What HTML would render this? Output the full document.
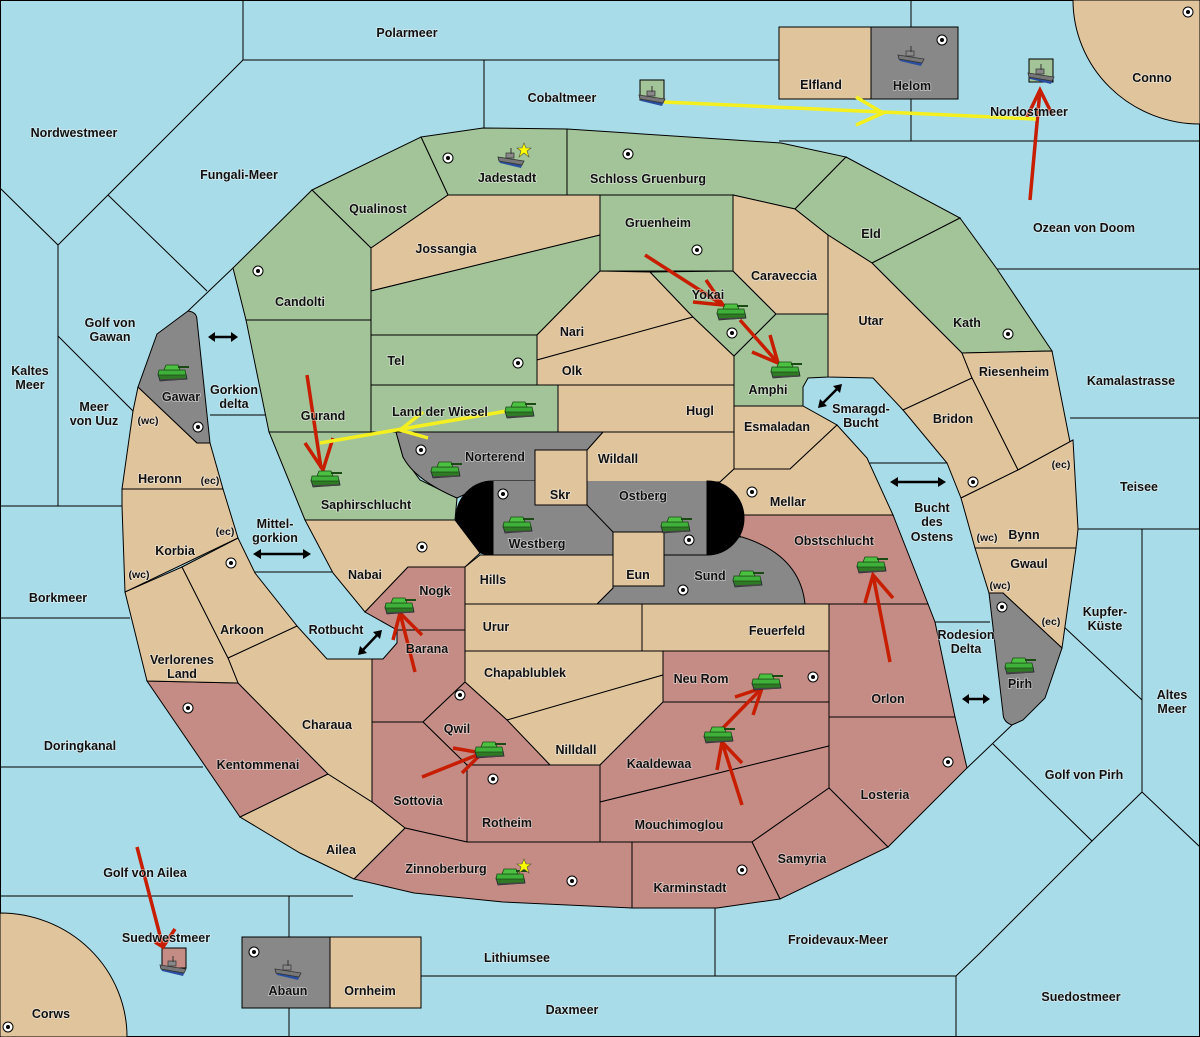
<!DOCTYPE html>
<html><head><meta charset="utf-8"><style>
html,body{margin:0;padding:0;background:#a8dce8;}
svg{display:block}
text{font-family:"Liberation Sans",sans-serif;font-weight:bold;font-size:12.5px;fill:#111;text-anchor:middle;paint-order:stroke;stroke:#f4f4f4;stroke-width:1.6px;stroke-opacity:.55}
text.s{font-size:10.5px}
.sea{fill:none;stroke:#000;stroke-width:1}
.l{stroke:#000;stroke-width:1}
.T{fill:#e0c49c}.G{fill:#a2c498}.R{fill:#c48c84}.Y{fill:#888}
.ra{stroke:#c81e00;stroke-width:3.5;fill:none;stroke-linecap:butt}
.ya{stroke:#f4f020;stroke-width:3.5;fill:none}
.ba{stroke:#000;stroke-width:2.5;fill:none}
</style></head><body>
<svg width="1200" height="1037" viewBox="0 0 1200 1037" xmlns="http://www.w3.org/2000/svg">
<defs>
<g id="tk">
<path d="M-15,1 L13,1 L14,6 L-13,8 Z" fill="#2f7a25" stroke="#223" stroke-width="0.8"/>
<path d="M-14,-3 L12,-3 L13,2 L-15,2 Z" fill="#3fb03a" stroke="#1b4a14" stroke-width="0.8"/>
<path d="M-7,-8 L5,-8 L7,-3 L-9,-3 Z" fill="#4cc040" stroke="#1b4a14" stroke-width="0.8"/>
<line x1="5" y1="-6" x2="16" y2="-6" stroke="#1b4a14" stroke-width="2"/>
<line x1="-13" y1="7" x2="13" y2="6" stroke="#444" stroke-width="1.5"/>
</g>
<g id="sh">
<path d="M-13,-1 L12,3 L10,8 L-11,3 Z" fill="#2a4fa0"/>
<path d="M-13,-3 L13,1 L11,5 L-12,1 Z" fill="#777" stroke="#333" stroke-width="0.8"/>
<rect x="-5" y="-7" width="8" height="5" fill="#888" stroke="#333" stroke-width="0.7"/>
<line x1="0" y1="-12" x2="0" y2="-6" stroke="#333"/>
</g>
<g id="dt"><circle r="5" fill="#fff" stroke="#000" stroke-width="1"/><circle r="2" fill="#000"/></g>
<polygon id="st" points="0,-7 2,-2 7,-2 3,1 5,7 0,3 -5,7 -3,1 -7,-2 -2,-2" fill="#ff0" stroke="#553" stroke-width="0.6"/>
</defs>
<rect x="0.5" y="0.5" width="1199" height="1036" fill="#a8dce8" stroke="#000"/>

<!-- sea borders -->
<g class="sea">
<polyline points="243,0 243,60 779,60"/>
<polyline points="484,60 484,128"/>
<polyline points="911,0 911,27"/>
<polyline points="911,99 911,141"/>
<polyline points="779,141 1200,141"/>
<polyline points="243,60 108,195 58,245 0,188"/>
<polyline points="108,195 207,291"/>
<polyline points="188,311 233,268"/>
<polyline points="58,245 58,506"/>
<polyline points="58,336 133,411"/>
<polyline points="0,506 122,506"/>
<polyline points="0,618 130,618"/>
<polyline points="0,767 203,767"/>
<polyline points="0,896 353,896"/>
<polyline points="289,896 289,1037"/>
<polyline points="210,415 266,415"/>
<polyline points="255,572 333,572"/>
<polyline points="997,269 1200,269"/>
<polyline points="1070,418 1200,418"/>
<polyline points="1078,529 1200,529"/>
<polyline points="1142,529 1142,792 1200,847"/>
<polyline points="1062,625 1142,700"/>
<polyline points="993,744 1092,841 1142,792"/>
<polyline points="1012,725 967,768"/>
<polyline points="1092,841 980,953 956,976 421,976"/>
<polyline points="956,976 956,1037"/>
<polyline points="715,908 715,976"/>
<polyline points="870,463 947,463"/>
<polyline points="935,622 990,622"/>
</g>

<!-- corner lands and boxes -->
<path class="T l" d="M1073,0 A127,124 0 0 0 1200,124 L1200,0 Z"/>
<path class="T l" d="M0,913 A127,124 0 0 1 127,1037 L0,1037 Z"/>
<rect class="T l" x="779" y="27" width="92" height="72"/>
<rect class="Y l" x="871" y="27" width="87" height="72"/>
<rect class="Y l" x="242" y="937" width="88" height="71"/>
<rect class="T l" x="330" y="937" width="91" height="71"/>
<rect class="G l" x="640" y="80" width="24" height="20"/>
<rect class="G l" x="1029" y="59" width="24" height="23"/>
<rect class="R l" x="162" y="948" width="24" height="20"/>

<!-- regions -->
<g class="l">
<polygon class="G" points="421,137 483,128 567,129 567,195 448,195"/>
<polygon class="G" points="312,190 421,137 448,195 371,248"/>
<polygon class="G" points="233,268 312,190 371,248 371,320 246,320"/>
<polygon class="G" points="246,320 371,320 371,432 269,432"/>
<polygon class="G" points="269,432 396,432 403,457 420,480 457,498 455,520 305,520"/>
<polygon class="G" points="567,129 781,143 846,157 795,209 733,195 567,195"/>
<polygon class="G" points="600,195 733,195 733,271 600,271"/>
<polygon class="G" points="846,157 960,218 872,263 828,235 795,209"/>
<polygon class="G" points="960,218 997,269 1052,351 962,353 872,263"/>
<polygon class="T" points="371,248 448,195 600,195 600,235 371,291"/>
<polygon class="G" points="371,291 600,235 600,271 537,335 371,335"/>
<polygon class="G" points="371,335 537,335 537,385 371,385"/>
<polygon class="T" points="537,335 600,271 650,272 693,317 537,360"/>
<polygon class="T" points="537,360 693,317 734,356 734,385 537,385"/>
<polygon class="G" points="650,272 733,271 776,314 734,356 693,317"/>
<polygon class="T" points="733,195 795,209 828,235 828,314 776,314 733,271"/>
<polygon class="G" points="734,356 776,314 828,314 828,377 808,378 803,387 803,406 734,406"/>
<polygon class="G" points="371,385 558,385 558,432 371,432"/>
<polygon class="T" points="558,385 734,385 734,432 558,432"/>
<polygon class="T" points="828,235 872,263 962,353 972,378 903,410 873,378 828,377"/>
<polygon class="T" points="962,353 1052,351 1070,442 1018,470 972,378"/>
<polygon class="T" points="972,378 1018,470 961,498 947,463 903,410"/>
<polygon class="T" points="961,498 1018,470 1073,440 1078,529 1076,548 975,548"/>
<polygon class="T" points="975,548 1076,548 1062,648 1003,593 989,593"/>
<path class="Y" d="M989,593 L1003,593 L1062,648 L1045,698 L1023,720 L1012,725 Q1003,722 1003,713 Z"/>
<polygon class="T" points="734,406 803,406 837,425 790,469 734,469"/>
<polygon class="T" points="603,432 734,432 734,469 720,482 587,482 587,450"/>
<polygon class="T" points="720,482 734,469 790,469 837,425 867,458 893,515 707,515"/>
<path class="Y" d="M396,432 L603,432 L587,450 L535,450 L535,481 L493,481 L470,492 L457,498 Q415,480 403,457 Z"/>
<rect class="T" x="535" y="450" width="52" height="55"/>
<polygon class="R" points="720,515 893,515 928,604 805,604"/>
<path class="Y" d="M597,604 L613,588 L613,555 L707,555 L707,537 L742,537 Q800,555 805,604 Z"/>
<rect class="Y" x="493" y="481" width="214" height="74" stroke="none"/>
<line x1="587" y1="505" x2="613" y2="532"/>
<line x1="613" y1="555" x2="707" y2="555"/>
<path d="M493,481 A37,37 0 0 0 493,555 Z" fill="#000"/>
<path d="M707,481 A37,37 0 0 1 707,555 Z" fill="#000"/>
<rect class="T" x="535" y="450" width="52" height="55"/>
<rect class="T" x="613" y="532" width="51" height="54"/>
<polygon class="T" points="305,520 455,520 480,553 465,567 408,567 365,612 333,573"/>
<polygon class="T" points="465,567 480,555 613,555 613,588 597,604 465,604"/>
<polygon class="T" points="465,604 642,604 642,651 465,651"/>
<polygon class="T" points="642,604 829,604 829,651 642,651"/>
<polygon class="R" points="829,604 928,604 935,622 955,717 829,717"/>
<polygon class="R" points="829,717 955,717 967,768 888,847 829,788"/>
<polygon class="R" points="365,612 408,567 465,567 465,630 397,630"/>
<polygon class="R" points="397,630 465,630 465,682 423,722 372,722 372,659 383,659 397,643"/>
<polygon class="T" points="465,651 663,651 663,675 507,720 465,682"/>
<polygon class="R" points="663,651 829,651 829,702 663,702"/>
<polygon class="T" points="507,720 663,675 663,702 600,765 550,765"/>
<polygon class="R" points="423,722 465,682 507,720 550,765 467,765"/>
<polygon class="R" points="663,702 829,702 829,746 600,802 600,765"/>
<polygon class="R" points="600,802 829,746 829,788 752,842 600,842"/>
<polygon class="R" points="829,788 888,847 780,899 752,842"/>
<polygon class="R" points="467,765 600,765 600,842 467,842"/>
<polygon class="R" points="372,722 423,722 467,765 467,842 405,828 372,802"/>
<polygon class="R" points="632,842 752,842 780,899 717,908 632,908"/>
<polygon class="R" points="405,828 467,842 632,842 632,908 503,902 414,893 354,879"/>
<polygon class="T" points="240,817 328,774 372,802 405,828 354,879 300,853"/>
<polygon class="R" points="147,681 238,683 328,774 240,817"/>
<polygon class="T" points="228,658 297,626 327,659 372,659 372,802 328,774 238,683"/>
<polygon class="T" points="125,592 182,567 228,658 238,683 147,681"/>
<polygon class="T" points="182,567 238,538 255,573 297,626 228,658"/>
<polygon class="T" points="122,489 223,489 238,538 125,592 122,506"/>
<polygon class="T" points="138,387 197,443 210,443 223,489 122,489 133,411"/>
<path class="Y" d="M138,387 L157,334 L188,311 Q197,312 197,320 L210,443 L197,443 Z"/>
</g>

<!-- supply centers -->
<g>
<use href="#dt" x="448" y="158"/><use href="#dt" x="628" y="154"/><use href="#dt" x="697" y="250"/>
<use href="#dt" x="258" y="271"/><use href="#dt" x="518" y="363"/><use href="#dt" x="732" y="333"/>
<use href="#dt" x="1008" y="334"/><use href="#dt" x="198" y="427"/><use href="#dt" x="421" y="450"/>
<use href="#dt" x="503" y="494"/><use href="#dt" x="752" y="492"/><use href="#dt" x="422" y="547"/>
<use href="#dt" x="231" y="563"/><use href="#dt" x="973" y="482"/><use href="#dt" x="683" y="590"/>
<use href="#dt" x="1002" y="607"/><use href="#dt" x="460" y="695"/><use href="#dt" x="188" y="708"/>
<use href="#dt" x="493" y="779"/><use href="#dt" x="813" y="677"/><use href="#dt" x="948" y="762"/>
<use href="#dt" x="572" y="881"/><use href="#dt" x="742" y="870"/><use href="#dt" x="942" y="40"/>
<use href="#dt" x="1188" y="12"/><use href="#dt" x="8" y="1027"/><use href="#dt" x="254" y="952"/>
<use href="#dt" x="689" y="540"/>
</g>

<!-- arrows -->
<g class="ra">
<line x1="307" y1="375" x2="321" y2="468"/><polyline points="305,443 323,470 333,438"/>
<line x1="645" y1="255" x2="723" y2="305"/><polyline points="693,302 723,305 706,280"/>
<line x1="740" y1="320" x2="778" y2="363"/><polyline points="752,352 778,363 770,335"/>
<line x1="415" y1="672" x2="400" y2="613"/><polyline points="393,640 400,613 422,635"/>
<line x1="422" y1="777" x2="482" y2="753"/><polyline points="453,748 482,753 462,773"/>
<line x1="742" y1="805" x2="722" y2="742"/><polyline points="717,770 722,742 742,763"/>
<line x1="718" y1="733" x2="762" y2="688"/><polyline points="735,697 762,688 753,715"/>
<line x1="890" y1="662" x2="873" y2="575"/><polyline points="865,603 873,575 893,598"/>
<line x1="1030" y1="200" x2="1040" y2="90"/><polyline points="1027,117 1040,90 1052,114"/>
<line x1="137" y1="847" x2="163" y2="947"/><polyline points="155,942 163,947 175,929"/>
</g>
<g class="ya">
<line x1="507" y1="411" x2="320" y2="443"/><polyline points="423,412 400,430 428,438"/>
<line x1="664" y1="102" x2="1036" y2="119"/><polyline points="856,97 883,113 856,125"/>
</g>
<g class="ba">
<line x1="212" y1="337" x2="234" y2="337"/>
<line x1="257" y1="554" x2="307" y2="554"/>
<line x1="361" y1="652" x2="379" y2="633"/>
<line x1="821" y1="405" x2="839" y2="387"/>
<line x1="894" y1="482" x2="942" y2="482"/>
<line x1="966" y1="699" x2="986" y2="699"/>
</g>
<g fill="#000">
<polygon points="208,337 215,332 215,342"/><polygon points="238,337 231,332 231,342"/>
<polygon points="253,554 261,549 261,559"/><polygon points="311,554 303,549 303,559"/>
<polygon points="358,655 360,646 367,653"/><polygon points="382,630 373,632 380,639"/>
<polygon points="818,408 820,399 827,406"/><polygon points="842,384 833,386 840,393"/>
<polygon points="890,482 898,477 898,487"/><polygon points="946,482 938,477 938,487"/>
<polygon points="962,699 969,694 969,704"/><polygon points="990,699 983,694 983,704"/>
</g>

<!-- units -->
<g>
<use href="#sh" x="511" y="160"/><use href="#st" x="524" y="150"/>
<use href="#sh" x="911" y="58"/><use href="#sh" x="652" y="98"/><use href="#sh" x="1041" y="76"/>
<use href="#sh" x="288" y="972"/><use href="#sh" x="173" y="968"/>
<use href="#tk" x="173" y="373"/><use href="#tk" x="520" y="410"/><use href="#tk" x="326" y="479"/>
<use href="#tk" x="446" y="470"/><use href="#tk" x="518" y="525"/><use href="#tk" x="676" y="525"/>
<use href="#tk" x="732" y="312"/><use href="#tk" x="786" y="370"/><use href="#tk" x="748" y="579"/>
<use href="#tk" x="872" y="565"/><use href="#tk" x="400" y="606"/><use href="#tk" x="490" y="750"/>
<use href="#tk" x="767" y="682"/><use href="#tk" x="719" y="735"/><use href="#tk" x="511" y="877"/>
<use href="#st" x="524" y="866"/><use href="#tk" x="1020" y="666"/>
</g>

<!-- labels -->
<g>
<text x="407" y="37">Polarmeer</text><text x="562" y="102">Cobaltmeer</text>
<text x="821" y="89">Elfland</text><text x="912" y="90">Helom</text><text x="1152" y="82">Conno</text>
<text x="1029" y="116">Nordostmeer</text><text x="74" y="137">Nordwestmeer</text>
<text x="239" y="179">Fungali-Meer</text><text x="507" y="182">Jadestadt</text>
<text x="648" y="183">Schloss Gruenburg</text><text x="378" y="213">Qualinost</text>
<text x="658" y="227">Gruenheim</text><text x="1084" y="232">Ozean von Doom</text>
<text x="871" y="238">Eld</text><text x="446" y="253">Jossangia</text>
<text x="784" y="280">Caraveccia</text><text x="300" y="306">Candolti</text><text x="708" y="299">Yokai</text>
<text x="110" y="327">Golf von</text><text x="110" y="341">Gawan</text>
<text x="967" y="327">Kath</text><text x="572" y="336">Nari</text><text x="871" y="325">Utar</text>
<text x="396" y="365">Tel</text><text x="572" y="375">Olk</text><text x="1014" y="376">Riesenheim</text>
<text x="30" y="375">Kaltes</text><text x="30" y="389">Meer</text>
<text x="1131" y="385">Kamalastrasse</text><text x="768" y="394">Amphi</text>
<text x="181" y="401">Gawar</text><text x="234" y="394">Gorkion</text><text x="234" y="408">delta</text>
<text x="94" y="411">Meer</text><text x="94" y="425">von Uuz</text><text class="s" x="148" y="424">(wc)</text>
<text x="440" y="416">Land der Wiesel</text><text x="700" y="415">Hugl</text><text x="323" y="420">Gurand</text>
<text x="861" y="413">Smaragd-</text><text x="861" y="427">Bucht</text>
<text x="953" y="423">Bridon</text><text x="777" y="431">Esmaladan</text>
<text x="495" y="461">Norterend</text><text x="618" y="463">Wildall</text>
<text x="160" y="483">Heronn</text><text class="s" x="210" y="484">(ec)</text><text class="s" x="1061" y="468">(ec)</text>
<text x="1139" y="491">Teisee</text><text x="560" y="499">Skr</text><text x="643" y="500">Ostberg</text>
<text x="788" y="506">Mellar</text><text x="366" y="509">Saphirschlucht</text>
<text x="932" y="512">Bucht</text><text x="932" y="526">des</text><text x="932" y="541">Ostens</text>
<text class="s" x="225" y="535">(ec)</text><text x="275" y="528">Mittel-</text><text x="275" y="542">gorkion</text>
<text x="1024" y="539">Bynn</text><text class="s" x="987" y="541">(wc)</text>
<text x="834" y="545">Obstschlucht</text><text x="537" y="548">Westberg</text>
<text x="175" y="555">Korbia</text><text x="1029" y="568">Gwaul</text><text class="s" x="139" y="578">(wc)</text>
<text x="365" y="579">Nabai</text><text x="638" y="579">Eun</text><text x="493" y="584">Hills</text>
<text x="710" y="580">Sund</text><text class="s" x="1000" y="589">(wc)</text><text x="435" y="595">Nogk</text>
<text x="58" y="602">Borkmeer</text><text x="1105" y="616">Kupfer-</text><text x="1105" y="630">Küste</text>
<text class="s" x="1051" y="625">(ec)</text><text x="496" y="631">Urur</text><text x="777" y="635">Feuerfeld</text>
<text x="242" y="634">Arkoon</text><text x="966" y="639">Rodesion</text><text x="966" y="653">Delta</text>
<text x="336" y="634">Rotbucht</text><text x="427" y="653">Barana</text>
<text x="182" y="664">Verlorenes</text><text x="182" y="678">Land</text>
<text x="525" y="677">Chapablublek</text><text x="701" y="683">Neu Rom</text><text x="1020" y="688">Pirh</text>
<text x="888" y="703">Orlon</text><text x="1172" y="699">Altes</text><text x="1172" y="713">Meer</text>
<text x="327" y="729">Charaua</text><text x="457" y="733">Qwil</text><text x="258" y="769">Kentommenai</text>
<text x="80" y="750">Doringkanal</text><text x="576" y="754">Nilldall</text><text x="659" y="768">Kaaldewaa</text>
<text x="1084" y="779">Golf von Pirh</text><text x="885" y="799">Losteria</text><text x="418" y="805">Sottovia</text>
<text x="507" y="827">Rotheim</text><text x="679" y="829">Mouchimoglou</text><text x="341" y="854">Ailea</text>
<text x="802" y="863">Samyria</text><text x="446" y="873">Zinnoberburg</text><text x="145" y="877">Golf von Ailea</text>
<text x="690" y="892">Karminstadt</text><text x="166" y="942">Suedwestmeer</text>
<text x="838" y="944">Froidevaux-Meer</text><text x="517" y="962">Lithiumsee</text>
<text x="288" y="995">Abaun</text><text x="370" y="995">Ornheim</text><text x="1081" y="1001">Suedostmeer</text>
<text x="572" y="1014">Daxmeer</text><text x="51" y="1018">Corws</text>
</g>
</svg>
</body></html>
